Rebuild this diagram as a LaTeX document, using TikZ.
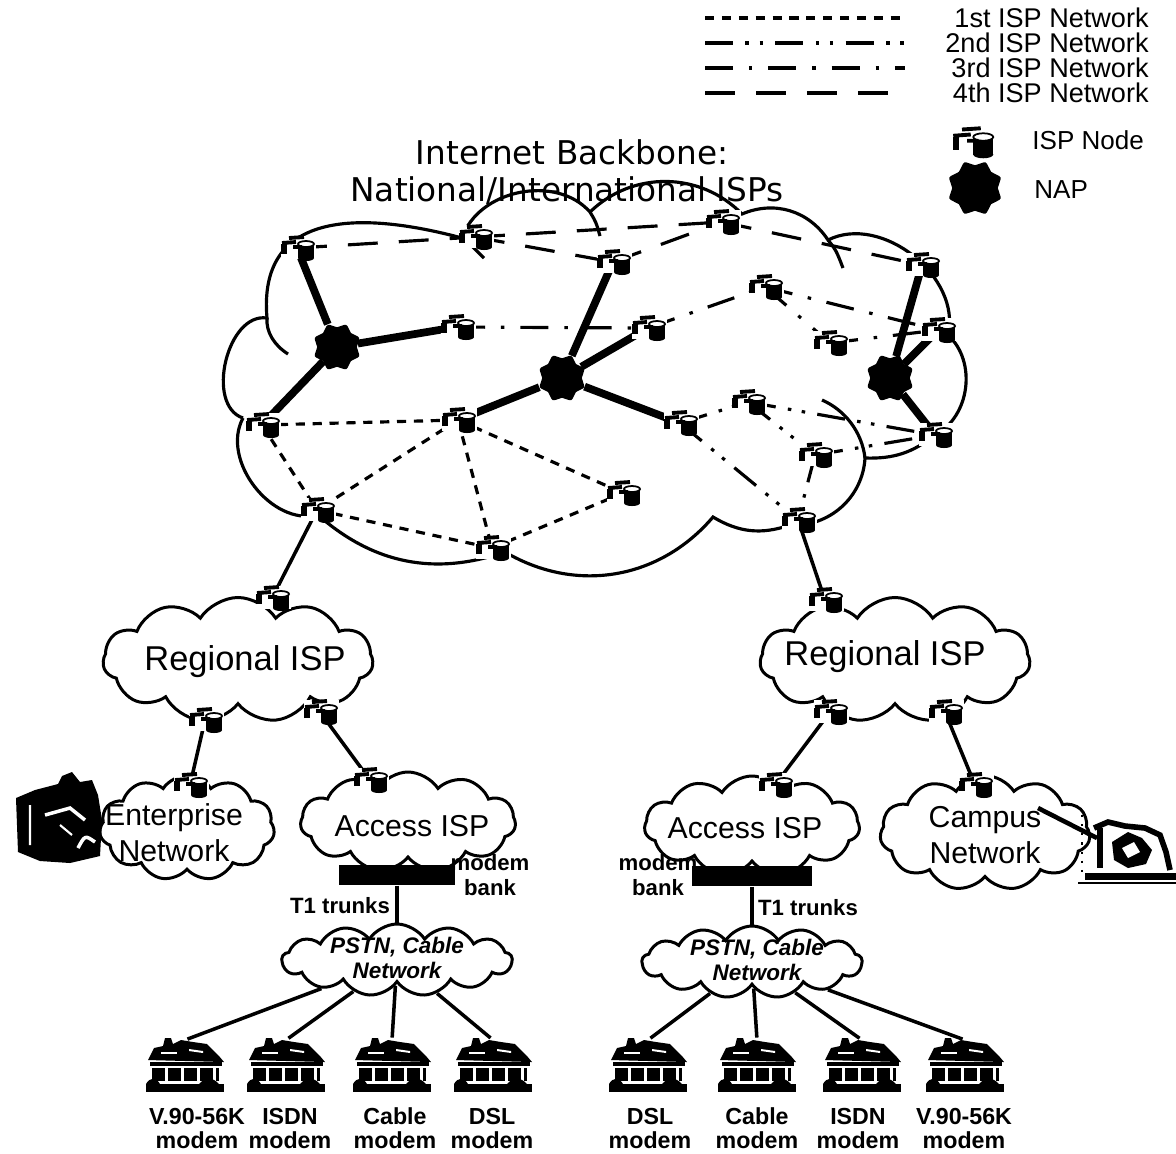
\documentclass[tikz,border=0pt]{standalone}
\usepackage{fontspec}
\setmainfont{Liberation Sans}
\newfontfamily\titlefont{DejaVu Sans}
\usetikzlibrary{shapes.geometric,shapes.symbols}

\begin{document}
\begin{tikzpicture}[x=0.01cm,y=0.01cm,
		isp1/.style={line width=0.9pt,dash pattern=on 2.6pt off 2.2pt},
		isp2/.style={line width=0.9pt,dash pattern=on 8pt off 3.5pt on 1pt off 3pt on 1pt off 3.5pt},
		isp3/.style={line width=0.9pt,dash pattern=on 8pt off 4.5pt on 1pt off 4.5pt},
		isp4/.style={line width=0.9pt,dash pattern=on 8.5pt off 6pt},
		naplink/.style={line width=2.2pt},
		link/.style={line width=1pt},
		cloudline/.style={line width=0.9pt},
		nap/.style={star,star points=8,star point ratio=0.8,fill=black,draw,line width=1.5pt,line join=round,inner sep=0pt,minimum size=0.34cm},
		netcloud/.style={cloud,cloud puffs=11,cloud puff arc=115,cloud ignores aspect,draw,line width=0.85pt,inner sep=0pt},
		bank/.style={fill=black,inner sep=0pt,minimum height=0.2cm},
		house/.style={inner sep=0pt,minimum size=1pt},
		lblbig/.style={font=\fontsize{8.6}{10.2}\selectfont,align=center},
		lblsmall/.style={font=\bfseries\fontsize{6.3}{7}\selectfont,align=center},
		lblhome/.style={font=\bfseries\fontsize{6.6}{7}\selectfont,anchor=base},
		router/.pic={
			\fill[white] (-16,-11) rectangle (19,12);
			\fill (1,-10) rectangle (17,4);
			\fill (9,-10) ellipse [x radius=8,y radius=3];
			\filldraw[fill=white,line width=0.5pt] (9,4) ellipse [x radius=8,y radius=3];
			\draw[line width=1.7pt] (-13,-6) -- (-13,4);
			\draw[line width=1.1pt] (-15,5) -- (-1,6) (-8,10) -- (7,11) (-4,1) -- (5,1);
		},
		home/.pic={
			% roof
			\fill (-37,-20) -- (-31,-8) -- (-22,-6) -- (-20,2) -- (-14,2) -- (-12,-4) -- (-4,0)
				-- (8,-2) -- (22,-4) -- (34,-16) -- (39,-22) -- cycle;
			\fill[white] (-24,-12) rectangle (-8,-14);
			\fill[white] (4,-9) -- (18,-11) -- (18,-13) -- (4,-11) -- cycle;
			% walls and windows
			\fill (-35,-22) rectangle (37,-26);
			\foreach \wx in {-33,-17,-1,15} \fill (\wx,-28) rectangle ++(13,-13);
			\fill (31,-28) rectangle (34,-41);
			% ground
			\fill (-39,-44) rectangle (39,-52);
			\fill (-39,-44) .. controls (-35,-37) and (-29,-37) .. (-25,-44);
			\fill (14,-44) .. controls (20,-37) and (28,-37) .. (34,-44);
		}
	]
	
	\useasboundingbox (0,0) rectangle (1176,-1153);
	
	% router positions
	\foreach \n/\x/\y in {a1/297/248, a2/475/237, a3/613/262, a4/722/222, a5/922/265,
		a6/457/327, a7/648/328, a8/765/287, a9/938/330, a10/830/343,
		a11/262/425, a12/458/420, a13/680/423, a14/748/402, a15/623/493,
		a16/815/455, a17/935/435, a18/317/510, a19/492/548, a20/798/520,
		rL1/272/598, rL2/205/720, rL3/320/712, entL1/190/785, accL1/370/780,
		rR1/825/600, rR2/830/712, rR3/945/712, accR1/775/785, camR1/975/785}
		\coordinate (\n) at (\x,-\y);
	
	% backbone cloud
	\draw[cloudline] (243,-418) to[bend left=85] (267,-318)
		to[out=95,in=165,looseness=1.3] (462,-238)
		to[bend left=60] (590,-212)
		to[bend left=45] (742,-214)
		to[bend left=40] (828,-240)
		to[bend left=65] (948,-335)
		to[bend left=55] (935,-435)
		to[bend left=20] (865,-458)
		to[bend left=45] (790,-525)
		to[bend left=25] (713,-517)
		to[bend left=40] (505,-552)
		to[bend left=30] (318,-515)
		to[bend left=66] (243,-418);
	\draw[cloudline] (267,-318) .. controls (266,-332) and (274,-345) .. (288,-354);
	\draw[cloudline] (462,-238) .. controls (472,-246) .. (484,-258);
	\draw[cloudline] (590,-212) .. controls (596,-222) .. (600,-236);
	\draw[cloudline] (828,-240) .. controls (836,-250) .. (843,-268);
	\draw[cloudline] (865,-458) .. controls (862,-432) and (845,-410) .. (822,-400);
	
	% lower networks
	\node[netcloud,minimum width=2.7cm,minimum height=1.25cm] (regL) at (238,-660) {};
	\node[netcloud,minimum width=2.7cm,minimum height=1.25cm] (regR) at (895,-660) {};
	\node[netcloud,minimum width=1.75cm,minimum height=1.05cm] (entL) at (187,-828) {};
	\node[netcloud,minimum width=2.15cm,minimum height=1cm] (accL) at (408,-822) {};
	\node[netcloud,minimum width=2.15cm,minimum height=1cm] (accR) at (752,-826) {};
	\node[netcloud,minimum width=2.1cm,minimum height=1.15cm] (camR) at (985,-833) {};
	\node[netcloud,cloud puffs=13,minimum width=2.3cm,minimum height=0.72cm] (pstnL) at (397,-960) {};
	\node[netcloud,cloud puffs=13,minimum width=2.2cm,minimum height=0.72cm] (pstnR) at (752,-962) {};
	
	% NAPs
	\node[nap] (nap1) at (337,-347) {};
	\node[nap] (nap2) at (562,-378) {};
	\node[nap] (nap3) at (890,-378) {};
	
	% the four ISP networks
	\foreach \u/\v in {a11/a12,a11/a18,a12/a18,a12/a19,a12/a15,a18/a19,a19/a15}
		\draw[isp1] (\u) -- (\v);
	\foreach \u/\v in {a13/a14,a14/a17,a14/a16,a16/a17,a16/a20,a13/a20}
		\draw[isp2] (\u) -- (\v);
	\foreach \u/\v in {a6/a7,a7/a8,a8/a9,a8/a10,a10/a9}
		\draw[isp3] (\u) -- (\v);
	\foreach \u/\v in {a1/a2,a2/a4,a2/a3,a3/a4,a4/a5}
		\draw[isp4] (\u) -- (\v);
	
	% NAP links
	\foreach \u/\v in {nap1/a1,nap1/a6,nap1/a11,nap2/a3,nap2/a7,nap2/a12,nap2/a13,nap3/a5,nap3/a9,nap3/a17}
		\draw[naplink] (\u) -- (\v);
	
	% down to regional, enterprise, access and campus
	\foreach \u/\v in {a18/rL1,rL2/entL1,rL3/accL1,a20/rR1,rR2/accR1,rR3/camR1}
		\draw[link] (\u) -- (\v);
	
	% routers
	\foreach \n in {a1,a2,a3,a4,a5,a6,a7,a8,a9,a10,a11,a12,a13,a14,a15,a16,a17,a18,a19,a20,
		rL1,rL2,rL3,entL1,accL1,rR1,rR2,rR3,accR1,camR1}
		\pic at (\n) {router};
	
	% modem banks and PSTN
	\node[bank,minimum width=1.15cm] (bankL) at (397,-875) {};
	\node[bank,minimum width=1.2cm] (bankR) at (752,-876) {};
	\draw[link] (bankL) -- (pstnL);
	\draw[link] (bankR) -- (pstnR);
	
	% homes
	\foreach \n/\x in {hL1/185,hL2/286,hL3/392,hL4/493,hR1/648,hR2/757,hR3/862,hR4/965} {
		\node[house] (\n) at (\x,-1040) {};
		\pic at (\n) {home};
	}
	\foreach \n in {hL1,hL2,hL3,hL4} \draw[link] (pstnL) -- (\n);
	\foreach \n in {hR1,hR2,hR3,hR4} \draw[link] (pstnR) -- (\n);
	
	% enterprise building
	\fill (16,-798) -- (35,-790) -- (58,-784) -- (62,-776) -- (72,-772) -- (80,-782) -- (92,-780)
		-- (98,-795) -- (102,-820) -- (100,-856) -- (70,-863) -- (40,-861) -- (18,-852) -- cycle;
	\draw[white,line width=1pt] (45,-815) -- (70,-808) -- (85,-820);
	\draw[white,line width=1pt] (78,-848) .. controls (85,-835) .. (95,-842);
	\draw[white,line width=0.6pt] (30,-805) -- (30,-845) (60,-825) -- (72,-835);
	
	% campus building
	\draw[line width=1.3pt] (1038,-808) -- (1097,-838);
	\draw[line width=0.6pt,dotted] (1082,-815) -- (1082,-872);
	\draw[line width=1.6pt] (1094,-828) -- (1108,-822) -- (1125,-826) -- (1145,-828) -- (1160,-835)
		-- (1166,-852) -- (1170,-870);
	\draw[line width=1.6pt] (1100,-828) -- (1100,-868);
	\fill (1112,-842) -- (1128,-832) -- (1142,-838) -- (1152,-850) -- (1146,-864) -- (1128,-868)
		-- (1114,-860) -- cycle;
	\fill[white] (1122,-848) -- (1134,-842) -- (1140,-852) -- (1128,-858) -- cycle;
	\draw[line width=2pt] (1085,-876) -- (1176,-876);
	\draw[line width=0.8pt] (1078,-883) -- (1176,-883);
	
	% texts
	\node[font=\titlefont\fontsize{9.3}{11}\selectfont] (title1) at (572,-152) {Internet Backbone:};
	\node[font=\titlefont\fontsize{9.3}{11}\selectfont] (title2) at (567,-191) {National/International ISPs};
	\node[font=\fontsize{9.8}{11}\selectfont] (regLtxt) at (245,-662) {Regional ISP};
	\node[font=\fontsize{9.8}{11}\selectfont] (regRtxt) at (885,-657) {Regional ISP};
	\node[lblbig] (entLtxt) at (174,-833) {Enterprise\\Network};
	\node[lblbig] (accLtxt) at (412,-826) {Access ISP};
	\node[lblbig] (accRtxt) at (745,-828) {Access ISP};
	\node[lblbig] (camRtxt) at (985,-835) {Campus\\Network};
	\node[lblsmall] (bankLtxt) at (490,-875) {modem\\bank};
	\node[lblsmall] (bankRtxt) at (658,-875) {modem\\bank};
	\node[lblsmall] (trunkL) at (340,-906) {T1 trunks};
	\node[lblsmall] (trunkR) at (808,-908) {T1 trunks};
	\node[font=\bfseries\itshape\fontsize{6.4}{7.2}\selectfont,align=center] (pstnLtxt) at (397,-958) {PSTN, Cable\\Network};
	\node[font=\bfseries\itshape\fontsize{6.4}{7.2}\selectfont,align=center] (pstnRtxt) at (757,-960) {PSTN, Cable\\Network};
	\foreach \n/\x/\t in {mL1/197/V.90-56K, mL2/290/ISDN, mL3/395/Cable, mL4/492/DSL,
		mR1/650/DSL, mR2/757/Cable, mR3/858/ISDN, mR4/964/V.90-56K} {
		\node[lblhome] (\n) at (\x,-1124) {\t};
		\node[lblhome] (\n m) at (\x,-1148) {modem};
	}
	
	% legend
	\foreach \i/\y/\t in {1/18/1st,2/43/2nd,3/68/3rd,4/93/4th} {
		\coordinate (leg\i a) at (705,-\y);
		\coordinate (leg\i b) at (905,-\y);
		\draw[isp\i] (leg\i a) -- (leg\i b);
		\node[anchor=east,font=\fontsize{7.7}{8}\selectfont] (legtxt\i) at (1161,-\y) {\t\ ISP Network};
	}
	\coordinate (legrouter) at (972,-142);
	\pic[scale=1.25] at (legrouter) {router};
	\node[anchor=west,font=\fontsize{7.4}{8}\selectfont] (legroutertxt) at (1020,-140) {ISP Node};
	\node[nap,minimum size=0.4cm] (legnap) at (975,-188) {};
	\node[anchor=west,font=\fontsize{7.4}{8}\selectfont] (legnaptxt) at (1022,-190) {NAP};
	
\end{tikzpicture}
\end{document}
